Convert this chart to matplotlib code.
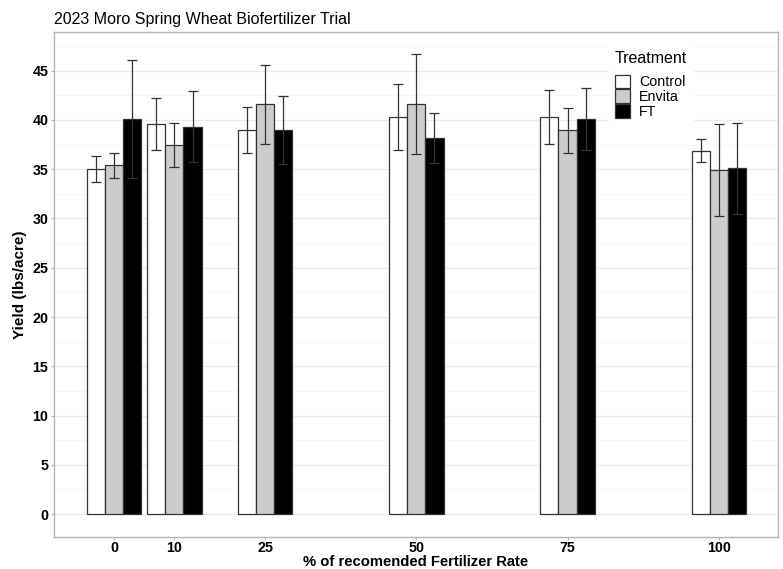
import numpy as np
import matplotlib.pyplot as plt

plt.rcParams['font.family'] = ['Liberation Sans', 'DejaVu Sans']

# fertilizer rates (% of recommended)
rates = [0, 10, 25, 50, 75, 100]
treatments = ["Control", "Envita", "FT"]

# mean yield per treatment at each rate
control_mean = [35.0, 39.6, 39.0, 40.3, 40.3, 36.9]
envita_mean = [35.4, 37.45, 41.6, 41.6, 38.95, 34.95]
ft_mean = [40.1, 39.3, 39.0, 38.2, 40.1, 35.1]

# half width of error bars
control_err = [1.3, 2.6, 2.35, 3.3, 2.75, 1.2]
envita_err = [1.25, 2.25, 4.0, 5.1, 2.3, 4.65]
ft_err = [6.0, 3.6, 3.45, 2.55, 3.1, 4.6]

means = [control_mean, envita_mean, ft_mean]
errs = [control_err, envita_err, ft_err]
colors = ["white", "#cccccc", "black"]

fig = plt.figure(figsize=(7.83, 5.69), dpi=100)
ax = fig.add_axes([0.069, 0.0562, 0.9246, 0.8883])

bar_w = 3
for i, t in enumerate(treatments):
    xs = np.array(rates) + (i - 1) * bar_w
    ax.bar(xs, means[i], width=bar_w, color=colors[i], edgecolor="#333333",
           linewidth=0.9, label=t, zorder=3)
    ax.errorbar(xs, means[i], yerr=errs[i], fmt="none", ecolor="#333333",
                elinewidth=0.9, capsize=3.6, capthick=0.9, zorder=4)

ax.set_xlim(-9.9, 109.8)
ax.set_ylim(-2.33, 48.97)
ax.set_xticks(rates)
ax.set_xticklabels([str(r) for r in rates])
ax.set_yticks(np.arange(0, 46, 5))
ax.set_yticks(np.arange(2.5, 49, 5), minor=True)

ax.grid(axis="y", which="major", color="#ebebeb", linewidth=0.8, zorder=0)
ax.grid(axis="y", which="minor", color="#f4f4f4", linewidth=0.5, zorder=0)
ax.set_axisbelow(True)
ax.tick_params(axis="both", which="major", length=2.5, width=0.8, color="#b3b3b3",
               labelsize=10.3, labelcolor="black", pad=1.5)
ax.tick_params(axis="x", which="major", pad=0.7)
ax.tick_params(axis="y", which="minor", length=0)
for lab in ax.get_xticklabels() + ax.get_yticklabels():
    lab.set_fontweight("bold")
for s in ax.spines.values():
    s.set_color("#b3b3b3")
    s.set_linewidth(1.0)

# x label placed by its baseline so it sits just above the bottom edge
ax.set_xlabel("% of recomended Fertilizer Rate", fontsize=10.6, fontweight="bold",
              va="baseline")
ax.xaxis.set_label_coords(0.5, -0.0577)
ax.set_ylabel("Yield (lbs/acre)", fontsize=11, fontweight="bold", labelpad=4)
fig.text(0.069, 0.958, "2023 Moro Spring Wheat Biofertilizer Trial", fontsize=11.5,
         ha="left", va="baseline")

leg = ax.legend(title="Treatment", loc="upper left", bbox_to_anchor=(0.767, 0.972),
                frameon=True, fontsize=10.3, title_fontsize=11.5, handlelength=1.08,
                handleheight=1.08, handletextpad=0.6, labelspacing=0.0,
                borderaxespad=0, borderpad=0.4, fancybox=False)
leg.get_frame().set_edgecolor("white")
leg.get_frame().set_alpha(1.0)
leg._legend_box.align = "left"
leg._legend_box.sep = 6

fig.savefig("out.png", dpi=100)
